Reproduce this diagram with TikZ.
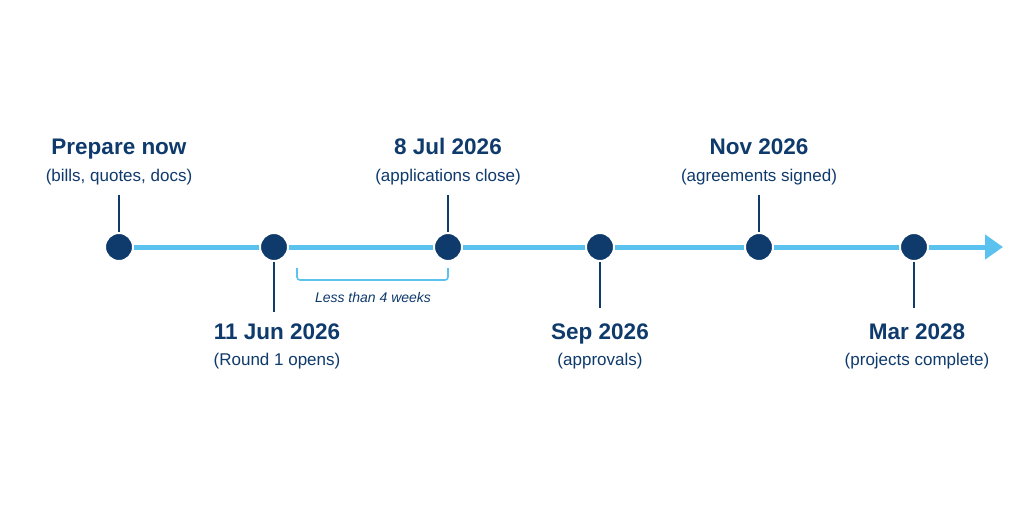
\documentclass[tikz,border=0pt]{standalone}
\usepackage{fontspec}
\setmainfont{Liberation Sans}
\usetikzlibrary{arrows.meta,calc}
\definecolor{navy}{HTML}{0E3A6C}
\definecolor{sky}{HTML}{5BC2F0}
\tikzset{
  dot/.style={circle,fill=navy,draw=white,line width=2pt,minimum size=28pt,inner sep=0pt},
  tick/.style={navy,line width=1.6pt},
  axis/.style={sky,line width=5pt},
  title/.style={anchor=base,text=navy,font=\fontsize{22.5}{26}\selectfont\bfseries,inner sep=0pt},
  sub/.style={anchor=base,text=navy,font=\fontsize{17}{19}\selectfont,inner sep=0pt},
  note/.style={anchor=base,text=navy,font=\fontsize{14}{16}\selectfont\itshape,inner sep=0pt}
}
\begin{document}
\begin{tikzpicture}[x=1pt,y=-1pt]
\useasboundingbox[fill=white] (0,0) rectangle (1024,512);
% timeline nodes positions
\coordinate (p0) at (119,247);
\coordinate (p1) at (274,247);
\coordinate (p2) at (448,247);
\coordinate (p3) at (600,247);
\coordinate (p4) at (759,247);
\coordinate (p5) at (914,247);
\coordinate (end) at (1003,247);
\draw[axis,-{Triangle[length=18pt,width=24pt]}] (p0) -- (end);
% ticks
\coordinate (t0) at (119,195); \draw[tick] (t0) -- (p0);
\coordinate (t1) at (274,312); \draw[tick] (t1) -- (p1);
\coordinate (t2) at (448,195); \draw[tick] (t2) -- (p2);
\coordinate (t3) at (600,308); \draw[tick] (t3) -- (p3);
\coordinate (t4) at (759,195); \draw[tick] (t4) -- (p4);
\coordinate (t5) at (914,308); \draw[tick] (t5) -- (p5);
% dots
\node[dot] (d0) at (p0) {};
\node[dot] (d1) at (p1) {};
\node[dot] (d2) at (p2) {};
\node[dot] (d3) at (p3) {};
\node[dot] (d4) at (p4) {};
\node[dot] (d5) at (p5) {};
% labels
\node[title] (l0) at (119,154) {Prepare now};
\node[sub] (s0) at (119,181) {(bills, quotes, docs)};
\node[title] (l2) at (448,154) {8 Jul 2026};
\node[sub] (s2) at (448,181) {(applications close)};
\node[title] (l4) at (759,154) {Nov 2026};
\node[sub] (s4) at (759,181) {(agreements signed)};
\node[title] (l1) at (277,339) {11 Jun 2026};
\node[sub] (s1) at (277,365) {(Round 1 opens)};
\node[title] (l3) at (600,339) {Sep 2026};
\node[sub] (s3) at (600,365) {(approvals)};
\node[title] (l5) at (917,339) {Mar 2028};
\node[sub] (s5) at (917,365) {(projects complete)};
% bracket
\coordinate (b0) at (297,268);
\coordinate (b1) at (448,268);
\draw[sky,line width=1.6pt,rounded corners=3pt] (b0) -- ++(0,12) -- ($(b1)+(0,12)$) -- (b1);
\node[note] (n) at (373,302) {Less than 4 weeks};
\end{tikzpicture}
\end{document}
